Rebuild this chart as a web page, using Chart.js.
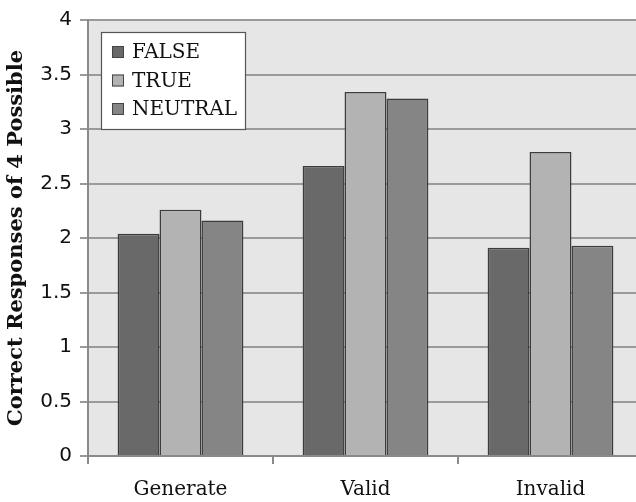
<!DOCTYPE html>
<html>
<head>
<meta charset="utf-8">
<script src="https://cdn.jsdelivr.net/npm/chart.js@4/dist/chart.umd.min.js"></script>
<style>
  html, body { margin: 0; padding: 0; background: #fff; overflow: hidden; }
  #wrap { width: 650px; height: 502px; }
</style>
</head>
<body>
<div id="wrap"><canvas id="responsesChart" width="650" height="502"></canvas></div>
<script>
// data
const categories = ['Generate', 'Valid', 'Invalid'];
const falseValues = [2.04, 2.66, 1.91];
const trueValues = [2.26, 3.34, 2.79];
const neutralValues = [2.16, 3.28, 1.93];
const yTicks = [0, 0.5, 1, 1.5, 2, 2.5, 3, 3.5, 4];

const serif = '"DejaVu Serif", "Liberation Serif", serif';
const sans = '"DejaVu Sans", "Liberation Sans", sans-serif';

// grey plot background
const plotBackground = {
  id: 'plotBackground',
  beforeDraw(chart) {
    const { ctx, chartArea } = chart;
    ctx.save();
    ctx.fillStyle = '#e6e6e6';
    ctx.fillRect(chartArea.left, chartArea.top, chartArea.right - chartArea.left, chartArea.bottom - chartArea.top);
    ctx.restore();
  }
};

// boxed legend inside the plot, top left
const boxLegend = {
  id: 'boxLegend',
  afterDatasetsDraw(chart) {
    const { ctx, chartArea } = chart;
    const x = chartArea.left + 13;
    const y = chartArea.top + 12;
    ctx.save();
    ctx.fillStyle = '#fff';
    ctx.strokeStyle = '#555';
    ctx.lineWidth = 1.2;
    ctx.fillRect(x, y, 144, 97);
    ctx.strokeRect(x + 0.5, y + 0.5, 144, 97);
    ctx.font = '20px ' + serif;
    ctx.textBaseline = 'middle';
    chart.data.datasets.forEach((ds, i) => {
      const cy = y + 20 + i * 28.5;
      ctx.fillStyle = ds.backgroundColor;
      ctx.fillRect(x + 11, cy - 6, 12, 12);
      ctx.strokeStyle = '#444';
      ctx.lineWidth = 1;
      ctx.strokeRect(x + 11.5, cy - 5.5, 11, 11);
      ctx.fillStyle = '#111';
      ctx.fillText(ds.label, x + 31, cy + 1);
    });
    ctx.restore();
  }
};

const barStyle = { borderColor: '#3c3c3c', borderWidth: 1.5, categoryPercentage: 0.68, barPercentage: 1.0 };

const responsesChart = new Chart(document.getElementById('responsesChart'), {
  type: 'bar',
  data: {
    labels: categories,
    datasets: [
      { label: 'FALSE', data: falseValues, backgroundColor: '#696969', ...barStyle },
      { label: 'TRUE', data: trueValues, backgroundColor: '#b3b3b3', ...barStyle },
      { label: 'NEUTRAL', data: neutralValues, backgroundColor: '#858585', ...barStyle }
    ]
  },
  options: {
    responsive: false,
    animation: false,
    layout: { padding: { top: 18, right: 7, bottom: 0, left: 0 } },
    plugins: {
      legend: { display: false },
      tooltip: { enabled: false }
    },
    scales: {
      x: {
        grid: { drawOnChartArea: false, offset: true, tickLength: 8, color: '#8a8a8a', lineWidth: 2 },
        border: { color: '#8a8a8a', width: 2 },
        ticks: { color: '#111', font: { family: serif, size: 20 }, padding: 14 },
        afterFit(scale) { scale.height = 46; }
      },
      y: {
        min: 0,
        max: 4,
        afterBuildTicks(scale) { scale.ticks = yTicks.map(v => ({ value: v })); },
        grid: { color: '#9a9a9a', lineWidth: 2, tickLength: 8 },
        border: { color: '#8a8a8a', width: 2 },
        ticks: { color: '#111', font: { family: sans, size: 20 }, padding: 8, callback: v => String(v) },
        title: {
          display: true,
          text: 'Correct Responses of 4 Possible',
          color: '#111',
          font: { family: serif, size: 21, weight: 'bold' },
          padding: { top: 4, bottom: 0 }
        },
        afterFit(scale) { scale.width = 88; }
      }
    }
  },
  plugins: [plotBackground, boxLegend]
});
</script>
</body>
</html>
